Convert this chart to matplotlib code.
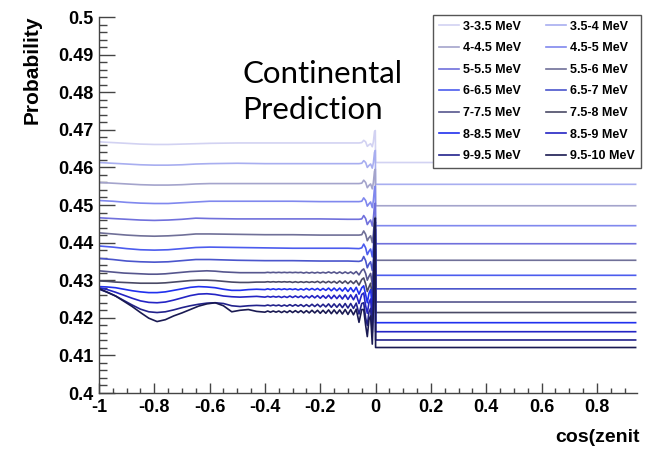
import matplotlib
matplotlib.use("Agg")
import matplotlib.pyplot as plt
from matplotlib.ticker import MultipleLocator

# energy bins (legend order)
labels = ["3-3.5 MeV", "3.5-4 MeV", "4-4.5 MeV", "4.5-5 MeV", "5-5.5 MeV",
          "5.5-6 MeV", "6-6.5 MeV", "6.5-7 MeV", "7-7.5 MeV", "7.5-8 MeV",
          "8-8.5 MeV", "8.5-9 MeV", "9-9.5 MeV", "9.5-10 MeV"]

colors = ["#d2d2f2", "#a8aef0", "#a4a4cc", "#8088ee", "#7070dc",
          "#707098", "#4c5cee", "#4a55cc", "#56568e", "#4a4a66",
          "#2030ee", "#2424c4", "#22228c", "#1a1a52"]

# cos(zenith) sampling for the smoother (low energy) curves
cz_a = [-1.0, -0.95, -0.9, -0.85, -0.8, -0.75, -0.7, -0.65, -0.6, -0.5,
        -0.4, -0.3, -0.2, -0.1, -0.06, -0.05, -0.043, -0.036, -0.03, -0.024,
        -0.018, -0.012, -0.008, -0.004, -0.001, 0.0, 0.94]

p01 = [.4668, .4666, .4664, .4662, .4661, .4661, .4662, .4663, .4664, .4665,
       .4665, .4665, .4665, .4665, .4665, .4666, .4672, .4668, .4656, .4660,
       .4663, .4655, .4668, .4695, .4698, .4613, .4613]
p02 = [.4613, .4611, .4609, .4607, .4606, .4606, .4607, .4609, .4610, .4611,
       .4610, .4610, .4610, .4610, .4610, .4611, .4618, .4613, .4600, .4605,
       .4609, .4598, .4612, .4640, .4645, .4555, .4555]
p03 = [.4560, .4558, .4556, .4554, .4553, .4553, .4554, .4556, .4557, .4557,
       .4557, .4557, .4557, .4557, .4557, .4558, .4566, .4560, .4546, .4552,
       .4556, .4543, .4560, .4590, .4595, .4498, .4498]
p04 = [.4512, .4510, .4507, .4505, .4504, .4504, .4506, .4508, .4510, .4510,
       .4510, .4510, .4509, .4509, .4509, .4510, .4519, .4512, .4497, .4503,
       .4508, .4493, .4512, .4545, .4550, .4445, .4445]
p05 = [.4466, .4464, .4462, .4460, .4459, .4460, .4462, .4465, .4464, .4463,
       .4463, .4463, .4463, .4462, .4462, .4463, .4472, .4464, .4448, .4455,
       .4460, .4444, .4465, .4500, .4505, .4397, .4397]
p06 = [.4426, .4423, .4420, .4418, .4417, .4418, .4420, .4423, .4423, .4422,
       .4421, .4421, .4420, .4420, .4420, .4421, .4431, .4422, .4405, .4413,
       .4418, .4400, .4424, .4462, .4468, .4353, .4353]
p07 = [.4391, .4388, .4384, .4381, .4380, .4381, .4384, .4387, .4388, .4387,
       .4386, .4385, .4385, .4385, .4384, .4386, .4396, .4386, .4368, .4377,
       .4383, .4362, .4388, .4430, .4436, .4313, .4313]
p08 = [.4358, .4355, .4351, .4349, .4348, .4349, .4352, .4355, .4355, .4353,
       .4352, .4352, .4351, .4351, .4350, .4352, .4363, .4352, .4333, .4343,
       .4349, .4326, .4354, .4400, .4408, .4277, .4277]

# finer sampling for the wiggly (high energy) curves
cz_b = [-1.0, -0.97, -0.94, -0.91, -0.88, -0.85, -0.82, -0.79, -0.76, -0.73,
        -0.7, -0.67, -0.64, -0.61, -0.58, -0.55, -0.52, -0.49, -0.46, -0.43,
        -0.40, -0.39, -0.38, -0.37, -0.36, -0.35, -0.34, -0.33, -0.32, -0.31,
        -0.30, -0.29, -0.28, -0.27, -0.26, -0.25, -0.24, -0.23, -0.22, -0.21,
        -0.20, -0.19, -0.18, -0.17, -0.16, -0.15, -0.14, -0.13, -0.12, -0.11,
        -0.10, -0.09, -0.08, -0.07,
        -0.06, -0.05, -0.043, -0.036, -0.03, -0.024, -0.018, -0.012, -0.008,
        -0.004, -0.001, 0.0, 0.94]

p09 = [.4325, .4323, .4321, .4319, .4318, .4317, .4316, .4316, .4317, .4319,
       .4321, .4323, .4324, .4325, .4324, .4322, .4321, .4320, .4320, .4320,
       .4320, .4321, .4320, .4321, .4320, .4321, .4320, .4321, .4320, .4321,
       .4320, .4321, .4320, .4321, .4319, .4321, .4319, .4321, .4319, .4321,
       .4319, .4321, .4319, .4322, .4319, .4322, .4318, .4322, .4318, .4322,
       .4318, .4322, .4317, .4323,
       .4314, .4326, .4330, .4318, .4300, .4310, .4318, .4290, .4330,
       .4390, .4400, .4242, .4242]
p10 = [.4298, .4297, .4295, .4294, .4293, .4292, .4292, .4292, .4293, .4295,
       .4297, .4299, .4300, .4300, .4299, .4297, .4295, .4294, .4294, .4295,
       .4295, .4296, .4295, .4296, .4295, .4296, .4295, .4296, .4295, .4296,
       .4294, .4296, .4294, .4296, .4294, .4296, .4294, .4296, .4294, .4297,
       .4293, .4297, .4293, .4297, .4293, .4297, .4292, .4298, .4292, .4298,
       .4291, .4298, .4291, .4299,
       .4287, .4302, .4306, .4290, .4270, .4282, .4292, .4258, .4300,
       .4370, .4382, .4214, .4214]
p11 = [.4283, .4282, .4280, .4276, .4272, .4269, .4267, .4267, .4269, .4273,
       .4277, .4281, .4283, .4282, .4280, .4276, .4273, .4273, .4275, .4276,
       .4275, .4277, .4275, .4277, .4275, .4277, .4275, .4277, .4275, .4277,
       .4275, .4277, .4274, .4277, .4274, .4278, .4274, .4278, .4274, .4278,
       .4273, .4278, .4273, .4279, .4272, .4279, .4272, .4279, .4271, .4280,
       .4270, .4280, .4269, .4281,
       .4263, .4280, .4285, .4262, .4240, .4265, .4275, .4225, .4280,
       .4420, .4435, .4187, .4187]
p12 = [.4280, .4275, .4268, .4260, .4252, .4245, .4241, .4240, .4242, .4247,
       .4253, .4259, .4263, .4264, .4262, .4258, .4256, .4255, .4256, .4257,
       .4255, .4257, .4255, .4257, .4255, .4257, .4254, .4257, .4254, .4258,
       .4254, .4258, .4254, .4258, .4253, .4258, .4253, .4259, .4253, .4259,
       .4252, .4259, .4252, .4260, .4251, .4260, .4251, .4260, .4250, .4261,
       .4249, .4261, .4248, .4262,
       .4238, .4262, .4266, .4232, .4212, .4240, .4250, .4190, .4260,
       .4430, .4445, .4163, .4163]
p13 = [.4276, .4268, .4258, .4246, .4234, .4223, .4216, .4214, .4216, .4221,
       .4227, .4232, .4236, .4239, .4240, .4238, .4232, .4230, .4232, .4233,
       .4232, .4234, .4232, .4234, .4232, .4234, .4231, .4234, .4231, .4235,
       .4231, .4235, .4231, .4235, .4230, .4235, .4230, .4236, .4230, .4236,
       .4229, .4236, .4229, .4237, .4228, .4237, .4228, .4237, .4227, .4238,
       .4226, .4238, .4225, .4239,
       .4210, .4238, .4240, .4200, .4180, .4215, .4225, .4160, .4240,
       .4440, .4455, .4141, .4141]
p14 = [.4278, .4268, .4258, .4244, .4230, .4214, .4199, .4190, .4195, .4205,
       .4213, .4222, .4231, .4237, .4240, .4232, .4216, .4220, .4222, .4217,
       .4215, .4218, .4215, .4218, .4215, .4218, .4214, .4218, .4214, .4219,
       .4214, .4219, .4214, .4219, .4213, .4219, .4213, .4220, .4213, .4220,
       .4212, .4220, .4212, .4221, .4211, .4221, .4211, .4221, .4210, .4222,
       .4209, .4222, .4208, .4223,
       .4188, .4222, .4222, .4180, .4150, .4195, .4205, .4130, .4225,
       .4450, .4465, .4121, .4121]

curves_a = [p01, p02, p03, p04, p05, p06, p07, p08]
curves_b = [p09, p10, p11, p12, p13, p14]

fig = plt.figure(figsize=(6.52, 4.51), dpi=100)
ax = fig.add_axes([0.1518, 0.1286, 0.8252, 0.8337])

handles = []
for i, p in enumerate(curves_a):
    h, = ax.plot(cz_a, p, color=colors[i], lw=1.2, label=labels[i])
    handles.append(h)
for j, p in enumerate(curves_b):
    i = j + len(curves_a)
    h, = ax.plot(cz_b, p, color=colors[i], lw=1.2, label=labels[i])
    handles.append(h)

ax.set_xlim(-1, 0.945)
ax.set_ylim(0.4, 0.5)

bold = dict(family="Liberation Sans", weight="bold")

ax.xaxis.set_minor_locator(MultipleLocator(0.05))
ax.yaxis.set_minor_locator(MultipleLocator(0.002))
ax.set_xticks([-1, -0.8, -0.6, -0.4, -0.2, 0, 0.2, 0.4, 0.6, 0.8])
ax.set_xticklabels(["-1", "-0.8", "-0.6", "-0.4", "-0.2", "0", "0.2", "0.4", "0.6", "0.8"])
ax.set_yticks([0.4, 0.41, 0.42, 0.43, 0.44, 0.45, 0.46, 0.47, 0.48, 0.49, 0.5])
ax.set_yticklabels(["0.4", "0.41", "0.42", "0.43", "0.44", "0.45", "0.46",
                    "0.47", "0.48", "0.49", "0.5"])
ax.tick_params(axis="y", which="major", direction="in", length=11.5, width=1, pad=4, color="#444444")
ax.tick_params(axis="y", which="minor", direction="in", length=6, width=1, color="#444444")
ax.tick_params(axis="x", which="major", direction="in", length=7, width=1, pad=4, color="#444444")
ax.tick_params(axis="x", which="minor", direction="in", length=3.5, width=1, color="#444444")
for lab in ax.get_xticklabels() + ax.get_yticklabels():
    lab.set_fontproperties(matplotlib.font_manager.FontProperties(family="Liberation Sans", weight="bold", size=13))

for s in ["top", "right"]:
    ax.spines[s].set_visible(False)
for s in ["left", "bottom"]:
    ax.spines[s].set_color("#444444")
    ax.spines[s].set_linewidth(1)

# axis titles, ROOT style at the end of the axes
fig.text(640 / 652, 1 - 442 / 451, "cos(zenit", ha="right", va="baseline", fontsize=14, **bold)
fig.text(32 / 652, 1 - 15 / 451, "Probability", rotation=90, ha="center", va="top", fontsize=15, **bold)

fig.text(242 / 652, 1 - 83 / 451, "Continental", fontsize=22.5, family="Lato", va="baseline")
fig.text(242 / 652, 1 - 119 / 451, "Prediction", fontsize=22.5, family="Lato", va="baseline")

order = [0, 2, 4, 6, 8, 10, 12, 1, 3, 5, 7, 9, 11, 13]
leg = fig.legend([handles[k] for k in order], [labels[k] for k in order],
                 ncol=2, loc="upper left", bbox_to_anchor=(433 / 652, 1 - 15 / 451),
                 borderaxespad=0, fancybox=False, framealpha=1, edgecolor="#555555",
                 prop=dict(family="Liberation Sans", weight="bold", size=9),
                 handlelength=1.6, handletextpad=0.35, labelspacing=0.77,
                 columnspacing=2.0, borderpad=0.45)
leg.get_frame().set_linewidth(1)

fig.savefig("out.png", dpi=100)
